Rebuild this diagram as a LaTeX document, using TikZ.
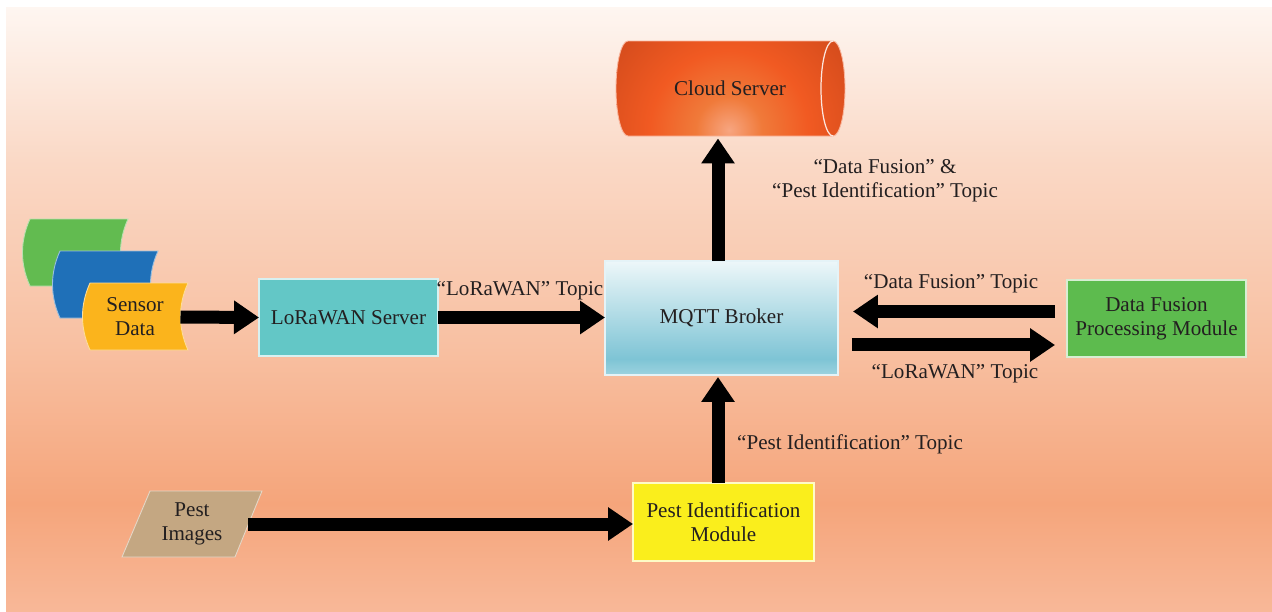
\documentclass[tikz,border=0pt]{standalone}
\usepackage{fontspec}
\setmainfont{Liberation Serif}
\usetikzlibrary{arrows.meta}

% palette
\definecolor{bgA}{HTML}{FEF6F1}
\definecolor{bgB}{HTML}{FAD8C5}
\definecolor{bgC}{HTML}{F8C0A2}
\definecolor{bgD}{HTML}{F5A57B}
\definecolor{bgE}{HTML}{F8B898}
\definecolor{mqT}{HTML}{EDF7F9}
\definecolor{mqM}{HTML}{7EC4D5}
\definecolor{mqB}{HTML}{9DD3DF}
\definecolor{clHi}{HTML}{F7A580}
\definecolor{clMid}{HTML}{F07A3A}
\definecolor{clBase}{HTML}{F15A22}
\definecolor{clDark}{HTML}{C9461A}
\definecolor{loraC}{HTML}{63C7C6}
\definecolor{dfC}{HTML}{5DBB4E}
\definecolor{pimC}{HTML}{FAEE1C}
\definecolor{tanC}{HTML}{C4A782}
\definecolor{cardG}{HTML}{62BB50}
\definecolor{cardB}{HTML}{1F70B8}
\definecolor{cardY}{HTML}{FBB41C}
\definecolor{ink}{HTML}{231F20}

% TikZ maps a path's box onto 25bp..75bp of an axis shading
\pgfdeclareverticalshading{pagebg}{100bp}{color(0bp)=(bgE); color(25bp)=(bgE); color(34bp)=(bgD); color(47bp)=(bgC); color(62bp)=(bgB); color(75bp)=(bgA); color(100bp)=(bgA)}
\pgfdeclareverticalshading{mqttfill}{100bp}{color(0bp)=(mqB); color(25bp)=(mqB); color(32bp)=(mqM); color(75bp)=(mqT); color(100bp)=(mqT)}
% ... and a circle's radius onto 25bp of a radial one
\pgfdeclareradialshading{cloudglow}{\pgfpointorigin}{color(0bp)=(clHi); color(5bp)=(clMid); color(12bp)=(clBase); color(25bp)=(clDark); color(50bp)=(clDark)}

% data card with a bulging left side and a hollow right side
\newcommand\sensorcard[3]{%
  \fill[#1, draw=#1!45!white, line width=0.5pt]
    ({#2+8},{#3}) -- ({#2+106},{#3})
    .. controls ({#2+96},{#3+22}) and ({#2+96},{#3+45}) .. ({#2+106},{#3+67})
    -- ({#2+8},{#3+67})
    .. controls ({#2-2},{#3+45}) and ({#2-2},{#3+22}) .. cycle;}

% outline of the lying cylinder
\newcommand\cloudbody{(628,41) -- (833,41) arc[start angle=-90, end angle=90, x radius=12, y radius=47.5]
        -- (628,136) arc[start angle=90, end angle=270, x radius=12, y radius=47.5] -- cycle}

\begin{document}
\begin{tikzpicture}[x=0.02cm, y=-0.02cm,
  every node/.style={font=\fontsize{12}{13.6}\selectfont, text=ink, align=center, inner sep=0pt, outer sep=0pt},
  box/.style={rectangle, draw=white!75!#1, line width=0.6pt, fill=#1},
  fat/.style={line width=0.26cm, -{Triangle[width=0.64cm,length=0.5cm]}},
  tag/.style={}]

% page
\useasboundingbox (0,0) rectangle (1272,612);
\fill[white] (0,0) rectangle (1272,612);
\shade[shading=pagebg] (6,7) rectangle (1272,612);

% cloud server (horizontal cylinder)
\begin{scope}
  \clip \cloudbody;
  \shade[shading=cloudglow] (729,130) circle[radius=165];
\end{scope}
\draw[white!55!clBase, line width=0.5pt] \cloudbody;
\draw[white!85!clBase, line width=0.7pt] (833,41) arc[start angle=-90, end angle=-270, x radius=12, y radius=47.5];
\node[minimum width=4.58cm, minimum height=1.92cm] (cloud) at (730,88.5) {Cloud Server};

% MQTT broker
\shade[shading=mqttfill, draw=white!80!mqM, line width=0.6pt] (605,261) rectangle (838,375);
\node[minimum width=4.66cm, minimum height=2.28cm] (mqtt) at (721.5,318) {MQTT Broker};

% other boxes
\node[box=loraC, minimum width=3.58cm, minimum height=1.54cm] (lora) at (348.5,317.5) {LoRaWAN Server};
\node[box=dfC, minimum width=3.58cm, minimum height=1.54cm] (df) at (1156.5,318.5) {Data Fusion\\Processing Module};
\node[box=pimC, minimum width=3.62cm, minimum height=1.56cm] (pim) at (723.5,522) {Pest Identification\\Module};

% sensor data cards
\sensorcard{cardG}{22}{219}
\sensorcard{cardB}{52}{251}
\sensorcard{cardY}{82}{283}
\node[minimum width=1.82cm, minimum height=1.34cm] (sensor) at (135,317) {Sensor\\Data};

% pest images (parallelogram)
\fill[tanC, draw=white!55!tanC, line width=0.5pt] (150,491) -- (262,491) -- (235,557) -- (122,557) -- cycle;
\node[minimum width=2.26cm, minimum height=1.32cm] (pimg) at (192,524) {Pest\\Images};

% connectors
\coordinate (axis) at (718,0);
\draw[fat] (sensor.east) -- (lora.west);
\draw[fat] (lora.east) -- (lora.east -| mqtt.west);
\draw[fat] ([xshift=-0.24cm,yshift=0.14cm]df.west) coordinate (dfin) -- ([xshift=0.3cm]dfin -| mqtt.east);
\draw[fat] ([xshift=0.28cm,yshift=-0.54cm]mqtt.east) coordinate (mqout) -- ([xshift=-0.24cm]mqout -| df.west);
\draw[fat] (axis |- mqtt.north) -- ([yshift=-0.04cm]axis |- cloud.south);
\draw[fat] (axis |- pim.north) -- ([yshift=-0.04cm]axis |- mqtt.south);
\draw[fat] (pimg.east) -- (pimg.east -| pim.west);

% topic labels
\node[tag] (tLora) at (520,291) {“LoRaWAN” Topic};
\node[tag] (tDfIn) at (951,284) {“Data Fusion” Topic};
\node[tag] (tLoraOut) at (955,374) {“LoRaWAN” Topic};
\node[tag] (tCloud) at (885,181) {“Data Fusion” \&\\“Pest Identification” Topic};
\node[tag] (tPest) at (850,444) {“Pest Identification” Topic};
\end{tikzpicture}
\end{document}
